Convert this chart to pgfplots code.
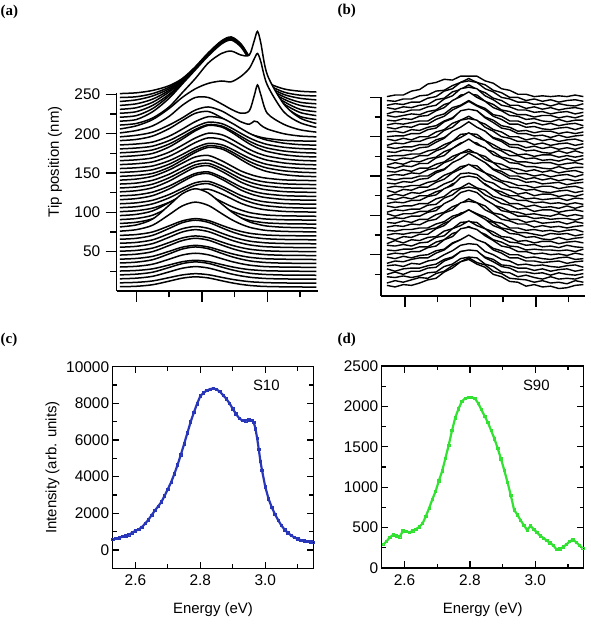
\documentclass[border=0pt]{standalone}
\usepackage{fontspec}
\setmainfont{Liberation Sans}
\newfontfamily\serifbold{Liberation Serif}
\usepackage{pgfplots}
\usepackage{pgfplotstable}
\pgfplotsset{compat=1.18}

\definecolor{sblue}{RGB}{40,55,185}
\definecolor{sgreen}{RGB}{50,225,50}

% (a) spectra along the tip scan: one row per tip position (nm), heights above the baseline
\pgfplotstableread[header=has colnames]{
b 2.55 2.60 2.65 2.70 2.74 2.78 2.82 2.86 2.89 2.92 2.945 2.96 2.97 2.98 3.00 3.05 3.10 3.15
5   0.4 1.0 3.0 7.5 11.3 13 11.6 8.1 5.5 3.4 2.1 1.6 1.3 1.0 0.7 0.3 0.1 0
10  0.4 1.0 2.8 7.0 10.4 12 10.7 7.4 5.0 3.1 1.9 1.4 1.2 1.0 0.6 0.2 0.1 0
15  0.5 1.3 3.7 9.3 13.9 16 14.2 9.9 6.7 4.2 2.6 1.9 1.6 1.3 0.8 0.3 0.2 0
20  0.5 1.4 3.9 9.9 14.8 17 15.1 10.5 7.1 4.4 2.7 2.0 1.7 1.4 0.9 0.3 0.2 0
25  0.4 1.1 3.2 8.1 12.2 14 12.5 8.7 5.9 3.6 2.2 1.7 1.4 1.1 0.7 0.3 0.1 0
30  0.5 1.4 4.1 10.4 15.7 18 16.0 11.2 7.6 4.7 2.9 2.2 1.8 1.4 0.9 0.4 0.2 0
35  0.6 1.7 4.8 12.2 18.3 21 18.7 13.0 8.8 5.5 3.4 2.5 2.1 1.7 1.1 0.4 0.2 0
40  0.5 1.4 4.1 10.4 15.7 18 16.0 11.2 7.6 4.7 2.9 2.2 1.8 1.4 0.9 0.4 0.2 0
45  0.7 1.8 5.1 12.8 19.1 22 19.6 13.6 9.2 5.7 3.5 2.6 2.2 1.8 1.1 0.4 0.2 0
50  0.6 1.6 4.6 11.6 17.4 20 17.8 12.4 8.4 5.2 3.2 2.4 2.0 1.6 1.0 0.4 0.2 0
55  0.7 1.8 5.3 13.3 20.0 23 20.5 14.3 9.7 6.0 3.7 2.8 2.3 1.8 1.2 0.5 0.2 0
60  0.7 1.8 5.1 12.8 19.1 22 19.6 13.6 9.2 5.7 3.5 2.6 2.2 1.8 1.1 0.4 0.2 0
65  0.8 2.0 5.8 14.5 21.8 25 22.3 15.5 10.5 6.5 4.0 3.0 2.5 2.0 1.3 0.5 0.3 0
70  0.7 1.8 5.1 12.8 19.1 22 19.6 13.6 9.2 5.7 3.5 2.6 2.2 1.8 1.1 0.4 0.2 0
75  1.1 3.0 8.7 22.0 33.1 38 33.8 23.6 16.0 9.9 6.1 4.6 3.8 3.0 1.9 0.8 0.4 0
80  1.5 4.0 11.5 29.0 43.5 50 44.5 31.0 21.0 13.0 8.0 6.0 5.0 4.0 2.5 1.0 0.5 0
85  0.9 2.4 6.9 17.4 26.1 30 26.7 18.6 12.6 7.8 4.8 3.6 3.0 2.4 1.5 0.6 0.3 0
90  0.8 2.2 6.4 16.2 24.4 28 24.9 17.4 11.8 7.3 4.5 3.4 2.8 2.2 1.4 0.6 0.3 0
95  0.9 2.4 6.9 17.4 26.1 30 26.7 18.6 12.6 7.8 4.8 3.6 3.0 2.4 1.5 0.6 0.3 0
100 0.9 2.1 5.4 12.6 20.4 27.6 29.4 23.4 17.4 11.4 7.8 6.0 5.1 4.2 3.0 1.2 0.6 0.3
105 1.0 2.2 5.8 13.4 21.8 29.4 31.4 25.0 18.6 12.2 8.3 6.4 5.4 4.5 3.2 1.3 0.6 0.3
110 0.9 2.1 5.4 12.6 20.4 27.6 29.4 23.4 17.4 11.4 7.8 6.0 5.1 4.2 3.0 1.2 0.6 0.3
115 1.1 2.5 6.3 14.7 23.8 32.2 34.3 27.3 20.3 13.3 9.1 7.0 6.0 4.9 3.5 1.4 0.7 0.4
120 1.0 2.2 5.8 13.4 21.8 29.4 31.4 25.0 18.6 12.2 8.3 6.4 5.4 4.5 3.2 1.3 0.6 0.3
125 1.1 2.5 6.3 14.7 23.8 32.2 34.3 27.3 20.3 13.3 9.1 7.0 6.0 4.9 3.5 1.4 0.7 0.4
130 1.0 2.3 5.9 13.9 22.4 30.4 32.3 25.7 19.1 12.5 8.6 6.6 5.6 4.6 3.3 1.3 0.7 0.3
135 1.0 2.2 5.8 13.4 21.8 29.4 31.4 25.0 18.6 12.2 8.3 6.4 5.4 4.5 3.2 1.3 0.6 0.3
140 1.0 2.3 5.9 13.9 22.4 30.4 32.3 25.7 19.1 12.5 8.6 6.6 5.6 4.6 3.3 1.3 0.7 0.3
145 0.8 1.9 4.6 12.2 21.3 31.2 37.6 35.7 29.6 22.0 16.0 12.9 11.0 9.5 6.8 3.0 1.1 0.4
150 0.7 1.8 4.2 11.2 19.6 28.7 34.7 32.9 27.3 20.3 14.7 11.9 10.2 8.8 6.3 2.8 1.1 0.4
155 0.7 1.7 4.0 10.6 18.5 27.1 32.7 31.0 25.7 19.1 13.9 11.2 9.6 8.3 5.9 2.6 1.0 0.3
160 0.7 1.8 4.2 11.2 19.6 28.7 34.7 32.9 27.3 20.3 14.7 11.9 10.2 8.8 6.3 2.8 1.1 0.4
165 0.7 1.8 4.3 11.5 20.2 29.5 35.6 33.8 28.1 20.9 15.1 12.2 10.4 9.0 6.5 2.9 1.1 0.4
170 0.8 2.1 4.9 13.1 23.0 33.6 40.6 38.5 32.0 23.8 17.2 13.9 11.9 10.3 7.4 3.3 1.2 0.4
175 0.7 1.9 4.4 11.8 20.7 30.3 36.6 34.8 28.9 21.5 15.5 12.6 10.7 9.3 6.7 3.0 1.1 0.4
180 0.7 1.8 4.2 11.2 19.6 28.7 34.7 32.9 27.3 20.3 14.7 11.9 10.2 8.8 6.3 2.8 1.1 0.4
185 0.7 1.9 4.4 11.8 20.7 30.3 36.6 34.8 28.9 21.5 15.5 12.6 10.7 9.3 6.7 3.0 1.1 0.4
190 1.2 2.7 7.0 16.4 26.5 35.9 38.2 30.4 22.6 14.8 10.1 7.8 6.6 5.5 3.9 1.6 0.8 0.4
195 1 3 7 16 25 35 39 34 27 20 17 21 20 16 11 5 2 1
200 1 4 10 22 36 46 46 38 31 26 29 48 62 50 26 12 5 2
205 1 5 13 27 41 52 59 62 61 68 78 90 97 87 57 23 9 3
210 1 3 10 24 42 60 80 92 95 90 90 108 120 106 65 28 10 3
215 1 3 13 30 48 66 84 99 104 95 79 70 62 53 36 20 7 3
220 1 3 12 28 44 62 80 95 100 91 75 65 57 49 33 18 7 3
225 1 3 11 25 40 57 75 90 95 86 70 61 53 45 30 16 6 3
230 1 3 10 23 36 53 71 86 91 82 66 56 48 41 27 14 6 3
235 1 3 9 20 32 48 66 81 86 77 61 52 44 37 24 12 5 3
240 1 3 8 17 28 44 62 77 82 73 57 48 40 33 21 10 5 3
245 1 2 6 14 24 39 57 72 77 68 52 43 36 29 18 8 4 3
250 1 2 5 11 20 35 53 68 73 64 48 39 32 25 15 7 4 3
}\rawA
\pgfplotstabletranspose[colnames from=b, input colnames to=E]{\specA}{\rawA}

% (b) spectra along the second scan
\pgfplotstableread[header=has colnames]{
b 2.545 2.570 2.595 2.620 2.645 2.670 2.695 2.720 2.745 2.770 2.795 2.820 2.845 2.870 2.895 2.920 2.945 2.970 2.995 3.020 3.045 3.070 3.095 3.120 3.145
10  1 -1 2 1 4 8 10 18 23 31 34 28 24 15 12 6 5 0 2 -1 0 -3 -2 1 2
15  -1 2 0 3 6 5 11 14 21 26 31 25 22 14 11 5 4 3 0 2 -1 0 -2 2 0
20  2 1 3 1 3 7 8 15 18 25 27 26 18 15 8 7 2 4 1 -1 2 -1 0 -1 2
25  0 3 0 4 4 8 9 17 21 29 31 30 21 16 10 8 3 3 1 2 -1 2 0 -1 1
30  2 -1 2 3 3 6 8 14 17 24 25 24 17 14 7 6 3 3 0 2 -1 1 2 -1 1
35  1 2 0 4 3 7 9 15 20 27 29 28 19 15 9 7 2 3 1 2 0 -1 1 2 -1
40  -1 2 1 4 6 6 12 16 24 29 35 29 25 16 12 6 6 2 2 0 1 2 -1 1 2
45  2 0 3 1 4 5 10 12 20 24 29 23 20 13 10 5 5 1 2 0 -1 1 2 -1 0
50  0 2 1 4 4 9 11 19 23 33 35 32 24 18 11 9 4 4 1 2 0 1 -1 2 0
55  1 0 2 2 5 5 11 14 22 25 31 25 21 14 11 6 5 1 2 1 1 0 1 -1 2
60  2 1 3 1 5 6 12 14 23 27 33 27 23 15 11 6 5 2 3 0 1 -1 2 0 -1
65  -1 3 0 4 3 7 8 15 18 26 27 26 18 14 8 7 2 3 0 2 2 -1 1 2 0
70  2 -1 3 2 6 6 13 17 26 31 37 31 25 17 13 7 6 2 3 0 -1 2 -1 1 2
75  0 2 1 3 3 7 9 15 19 28 29 27 19 16 9 7 3 3 1 -1 2 1 2 -1 1
80  1 0 2 2 4 4 9 12 19 22 27 22 18 12 10 4 4 1 2 0 1 -1 1 2 -1
85  0 2 1 4 3 8 10 18 22 31 33 31 22 17 10 8 4 4 0 2 0 1 -1 1 2
90  1 0 3 1 5 5 11 14 21 25 31 26 22 13 11 5 5 1 3 0 1 2 -1 2 0
95  0 2 1 4 4 9 11 20 25 34 37 34 25 19 11 9 4 4 1 2 0 1 1 -1 2
100 2 -1 2 2 5 5 10 13 20 24 29 23 20 13 10 5 4 1 2 0 -1 2 -1 1 -1
105 -1 2 1 3 3 8 9 17 21 29 31 29 21 16 10 8 3 4 0 2 2 -1 1 2 0
110 2 0 2 2 5 5 11 14 22 25 31 25 22 14 11 5 5 1 3 0 1 -1 2 -1 2
115 0 2 1 4 4 9 11 19 23 33 35 33 24 18 11 8 4 4 1 2 0 1 -1 1 -1
120 2 0 3 1 5 5 10 13 20 23 29 24 20 13 10 5 5 1 2 0 1 2 -1 2 1
125 -1 2 0 4 3 7 9 15 19 28 29 27 19 16 9 7 2 4 0 2 2 -1 1 -1 2
130 2 -1 3 2 6 6 12 16 24 29 35 29 24 16 12 6 5 2 3 0 -1 1 2 -1 1
135 0 2 1 3 3 7 9 16 20 27 29 28 19 15 9 7 3 3 0 2 2 -1 1 2 -1
140 1 0 3 2 6 7 14 18 27 32 39 33 27 18 13 7 6 2 3 0 1 2 -1 1 2
145 2 0 2 2 5 5 11 14 21 26 31 25 22 14 11 5 5 1 3 0 2 -1 1 -1 1
150 0 2 1 4 3 8 10 17 21 29 31 29 21 17 9 8 3 3 0 2 -1 1 2 -1 2
155 1 0 3 1 5 5 10 13 20 24 29 23 20 12 10 5 4 1 3 0 2 -1 1 2 -1
160 2 0 3 2 6 6 13 16 25 31 37 30 26 17 13 7 6 2 2 0 -1 2 -1 1 1
165 -1 2 0 4 3 7 9 16 20 27 29 27 19 16 9 7 3 3 1 2 2 -1 1 2 0
170 2 0 3 2 6 6 12 16 24 29 35 29 25 16 12 6 6 2 3 0 1 -1 2 -1 2
175 0 1 1 3 3 7 9 15 19 28 29 28 20 15 9 7 2 3 0 2 2 -1 1 -1 1
180 1 0 3 2 6 7 13 18 27 32 39 32 27 18 14 7 6 2 3 0 -1 2 -1 2 -1
185 2 0 2 2 5 5 11 14 21 25 31 25 21 14 11 5 5 1 3 0 2 -1 1 -1 2
190 -1 2 1 4 4 8 10 18 22 31 33 31 22 17 10 8 4 4 0 2 -1 1 2 -1 1
195 2 0 3 1 5 5 11 14 22 26 31 25 21 14 11 5 5 1 3 0 2 -1 1 2 -1
200 0 1 1 4 4 9 11 19 23 33 35 33 24 18 11 9 4 4 1 2 -1 2 -1 1 2
205 1 2 0 4 3 7 9 15 19 27 29 28 20 16 9 7 2 3 0 2 2 -1 1 -1 1
210 2 0 3 2 6 6 12 16 24 29 35 29 24 16 12 6 6 2 3 0 -1 1 2 -1 2
215 0 2 1 3 5 5 11 14 22 25 31 25 21 13 11 5 5 1 3 0 2 -1 1 2 -1
220 1 0 3 2 6 7 13 17 26 31 37 30 25 17 13 7 6 2 3 0 -1 2 -1 1 1
225 2 0 2 4 3 7 9 16 19 28 29 28 20 16 9 7 3 3 0 2 2 -1 1 -1 2
230 -1 2 1 4 4 8 10 18 22 31 33 31 22 17 10 8 4 4 1 2 -1 1 2 -1 1
235 2 0 3 2 5 6 12 14 22 25 31 25 21 14 11 5 5 1 3 0 2 -1 1 2 0
240 0 2 1 4 4 9 11 18 21 29 31 29 21 17 10 8 4 4 1 2 -1 2 0 -1 2
245 1 0 3 3 7 8 13 14 20 24 29 24 21 14 11 5 5 1 3 0 2 -1 1 2 0
250 1 3 3 8 10 17 19 23 22 27 27 27 21 18 11 9 4 4 1 2 1 2 1 3 1
}\rawB
\pgfplotstabletranspose[colnames from=b, input colnames to=E]{\specB}{\rawB}

% (c) S10 spectrum
\pgfplotstableread{
E I
2.530 580
2.540 620
2.550 660
2.560 730
2.570 760
2.580 830
2.590 940
2.600 1050
2.610 1120
2.620 1250
2.630 1440
2.640 1650
2.650 1900
2.660 2150
2.670 2380
2.680 2620
2.690 2960
2.700 3320
2.710 3700
2.720 4150
2.730 4650
2.740 5200
2.750 5780
2.760 6380
2.770 6980
2.780 7500
2.790 7980
2.800 8400
2.810 8580
2.820 8700
2.830 8780
2.840 8810
2.850 8760
2.860 8640
2.870 8450
2.880 8250
2.890 8000
2.900 7700
2.910 7420
2.920 7180
2.930 7060
2.940 7050
2.950 7100
2.960 7060
2.965 6950
2.970 6600
2.975 6100
2.980 5500
2.985 4850
2.990 4350
3.000 3450
3.010 2800
3.020 2330
3.030 1950
3.040 1620
3.050 1330
3.060 1100
3.070 930
3.080 790
3.090 680
3.100 600
3.110 530
3.120 490
3.130 460
3.140 440
3.147 430
}\dataC

% (d) S90 spectrum
\pgfplotstableread{
E I
2.535 290
2.545 330
2.555 380
2.565 410
2.575 400
2.585 385
2.595 460
2.605 455
2.615 440
2.625 460
2.635 480
2.645 510
2.655 550
2.665 640
2.675 740
2.685 850
2.695 950
2.705 1080
2.715 1200
2.725 1360
2.735 1520
2.745 1700
2.755 1860
2.765 1970
2.775 2060
2.785 2100
2.795 2110
2.805 2110
2.815 2100
2.825 2040
2.835 1960
2.845 1880
2.855 1800
2.865 1700
2.875 1600
2.885 1480
2.895 1350
2.905 1210
2.915 1060
2.925 900
2.935 720
2.945 660
2.955 590
2.965 530
2.975 470
2.985 520
2.995 480
3.005 440
3.015 400
3.025 370
3.035 340
3.045 310
3.055 280
3.065 230
3.075 235
3.085 260
3.095 290
3.105 330
3.115 350
3.125 320
3.135 280
3.145 245
}\dataD

\tikzset{
  txt/.style={font=\fontsize{15}{18}\selectfont},
  tkl/.style={font=\fontsize{15.5}{18}\selectfont},
  plab/.style={font=\serifbold\bfseries\fontsize{15}{17}\selectfont, anchor=west, inner sep=0pt},
}
\pgfplotsset{
  wfall/.style={
    scale only axis, anchor=south west, axis on top, clip=false,
    axis x line=bottom, axis y line=left,
    axis line style={-, line width=1.5bp, black},
    tick align=outside, tick style={line width=1.5bp, black},
    major tick length=11bp, minor tick length=6.5bp,
    xtick={2.6,2.8,3.0}, minor xtick={2.7,2.9,3.1}, xticklabels={},
    ytick={50,100,...,250}, minor ytick={25,75,...,225},
    tick label style={tkl}, label style={txt},
    /pgf/number format/assume math mode=true,
  },
  spec/.style={
    scale only axis, anchor=south west,
    axis line style={line width=1.3bp, black},
    tick align=inside, tick style={line width=1.2bp, black},
    major tick length=6.5bp, minor tick length=4bp,
    xmin=2.53, xmax=3.148,
    xtick={2.6,2.8,3.0}, minor xtick={2.7,2.9,3.1},
    xticklabel style={yshift=-3bp, /pgf/number format/.cd, fixed, fixed zerofill, precision=1},
    yticklabel style={/pgf/number format/1000 sep={}},
    scaled ticks=false,
    tick label style={tkl}, label style={txt},
    /pgf/number format/assume math mode=true,
    xlabel={Energy (eV)},
    xlabel style={at={(axis description cs:0.5,-0.205)}, anchor=center},
  },
}

\begin{document}
\begin{tikzpicture}
\path[use as bounding box] (0,0) rectangle (591bp,627bp);

% (a) waterfall of spectra versus tip position
\begin{axis}[wfall, at={(116.7bp,336bp)}, width=201.3bp, height=198.2bp,
  xmin=2.54, xmax=3.155, ymin=0, ymax=252,
  ylabel={Tip position (nm)},
  ylabel style={at={(axis description cs:-0.306,0.652)}, anchor=center},
  yticklabel style={xshift=-2bp}]
\pgfplotsinvokeforeach{250,245,...,5}{
  \addplot[draw=none, fill=white, smooth] table[x=E, y expr=\thisrow{#1}+#1] {\specA} \closedcycle;
  \addplot[black, line width=1.5bp, smooth] table[x=E, y expr=\thisrow{#1}+#1] {\specA};
}
\end{axis}

% (b) waterfall of the second scan
\begin{axis}[wfall, at={(381bp,331bp)}, width=204bp, height=199bp,
  xmin=2.527, xmax=3.15, ymin=-2.5, ymax=250.5, yticklabels={}]
\pgfplotsinvokeforeach{250,245,...,10}{
  \addplot[draw=none, fill=white] table[x=E, y expr=\thisrow{#1}+#1] {\specB} \closedcycle;
  \addplot[black, line width=1.4bp, line join=round] table[x=E, y expr=\thisrow{#1}+#1] {\specB};
}
\end{axis}

% (c) single spectrum S10
\begin{axis}[spec, at={(112.7bp,58.7bp)}, width=200.6bp, height=201.6bp,
  ymin=-1000, ymax=10000, ytick={0,2000,...,10000}, minor ytick={-1000,1000,...,9000},
  ylabel={Intensity (arb. units)},
  ylabel style={at={(axis description cs:-0.3,0.5)}, anchor=center}]
\addplot[sblue, line width=2.2bp, mark=square, mark size=1.2bp, mark options={line width=0.7bp}] table[x=E, y=I] {\dataC};
\end{axis}

% (d) single spectrum S90
\begin{axis}[spec, at={(381.7bp,59bp)}, width=202bp, height=202bp,
  ymin=0, ymax=2500, ytick={0,500,...,2500}, minor ytick={250,750,...,2250}]
\addplot[sgreen, line width=2.2bp, mark=square, mark size=1.2bp, mark options={line width=0.7bp}] table[x=E, y=I] {\dataD};
\end{axis}

\node[txt] at (266.3bp,242bp) {S10};
\node[txt] at (536.3bp,242bp) {S90};

\node[plab] at (0.5bp,615.5bp) {(a)};
\node[plab] at (337.5bp,616bp) {(b)};
\node[plab] at (0.5bp,287bp) {(c)};
\node[plab] at (337.5bp,287bp) {(d)};
\end{tikzpicture}
\end{document}
